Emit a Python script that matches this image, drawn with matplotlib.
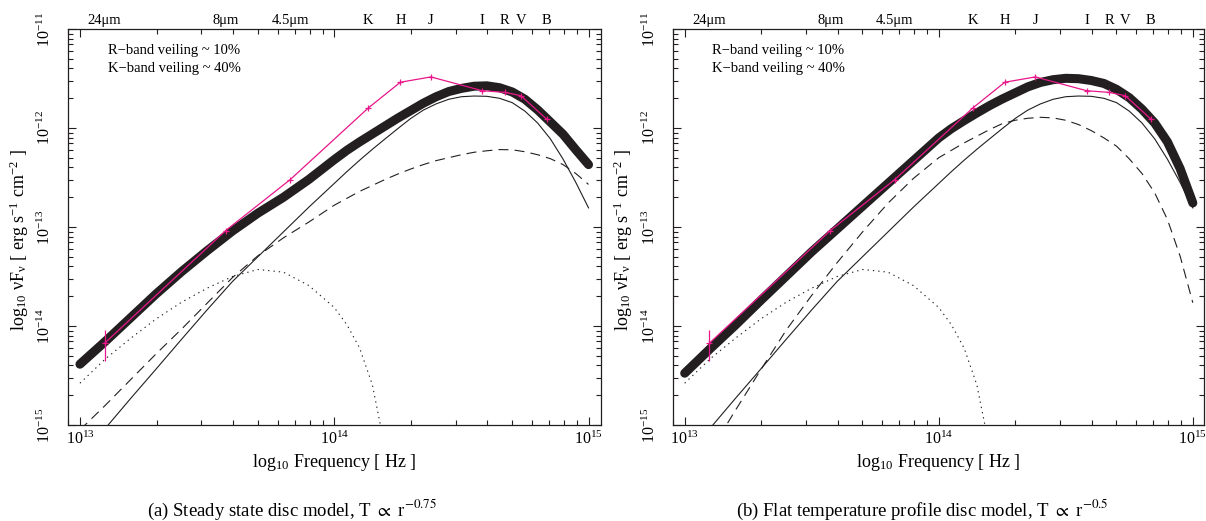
import numpy as np
import matplotlib
matplotlib.use("Agg")
import matplotlib.pyplot as plt
from matplotlib.ticker import FixedLocator, NullFormatter, LogLocator
import matplotlib.transforms as mtransforms

plt.rcParams['font.family'] = ['Liberation Serif', 'DejaVu Serif']
plt.rcParams['mathtext.fontset'] = 'stix'

# ---------------- data (log10 values) ----------------
log_nu = [13.0, 13.1, 13.2, 13.3, 13.4, 13.5, 13.6, 13.7, 13.8, 13.9,
          14.0, 14.05, 14.1, 14.15, 14.2, 14.25, 14.3, 14.35, 14.4, 14.45,
          14.5, 14.55, 14.6, 14.65, 14.7, 14.75, 14.8, 14.85, 14.9, 14.95, 15.0]

# panel (a): steady state disc -- total (thick) and disc (dashed)
a_total = [-14.386, -14.155, -13.915, -13.675, -13.45, -13.24, -13.04, -12.86, -12.70, -12.52,
           -12.32, -12.225, -12.14, -12.06, -11.98, -11.90, -11.825, -11.75, -11.685, -11.632,
           -11.600, -11.578, -11.574, -11.593, -11.636, -11.71, -11.817, -11.94, -12.064, -12.22, -12.37]
a_disc = [-15.05, -14.80, -14.54, -14.28, -14.03, -13.77, -13.51, -13.29, -13.11, -12.95,
          -12.78, -12.71, -12.64, -12.58, -12.52, -12.465, -12.415, -12.37, -12.33, -12.30,
          -12.27, -12.245, -12.23, -12.218, -12.22, -12.24, -12.27, -12.31, -12.37, -12.46, -12.57]

# panel (b): flat temperature profile disc -- total (thick) and disc (dashed)
b_total = [-14.477, -14.23, -13.99, -13.74, -13.495, -13.25, -13.02, -12.79, -12.56, -12.33,
           -12.10, -12.006, -11.925, -11.848, -11.774, -11.707, -11.646, -11.585, -11.54, -11.512,
           -11.498, -11.502, -11.52, -11.55, -11.61, -11.694, -11.81, -11.95, -12.14, -12.41, -12.757]
b_disc = [-15.67, -15.27, -14.85, -14.44, -14.04, -13.69, -13.36, -13.05, -12.76, -12.51,
          -12.30, -12.225, -12.15, -12.083, -12.016, -11.956, -11.922, -11.902, -11.892, -11.898,
          -11.922, -11.965, -12.026, -12.10, -12.184, -12.312, -12.46, -12.655, -12.924, -13.294, -13.765]

# stellar component (thin solid), same in both panels
star = [-15.333, -15.033, -14.730, -14.433, -14.133, -13.837, -13.55, -13.30, -13.05, -12.80,
        -12.56, -12.44, -12.325, -12.215, -12.11, -12.006, -11.905, -11.82, -11.757, -11.71,
        -11.684, -11.677, -11.68, -11.70, -11.744, -11.83, -11.95, -12.11, -12.315, -12.55, -12.807]

# dust component (dotted), same in both panels
dust_log_nu = [13.0, 13.1, 13.2, 13.3, 13.4, 13.5, 13.6, 13.7, 13.8, 13.9, 14.0,
               14.05, 14.1, 14.15, 14.2]
dust = [-14.578, -14.332, -14.123, -13.928, -13.759, -13.618, -13.500, -13.429,
        -13.456, -13.591, -13.813, -13.988, -14.224, -14.595, -15.236]

# observed SED (magenta)
band_names = ['24\u03bcm', '8\u03bcm', '4.5\u03bcm', 'K', 'H', 'J', 'I', 'R', 'V', 'B']
band_nu = [1.25e13, 3.74e13, 6.70e13, 1.36e14, 1.82e14, 2.40e14, 3.82e14, 4.69e14, 5.42e14, 6.84e14]
obs_flux = [6.7e-15, 9.2e-14, 3.0e-13, 1.59e-12, 2.9e-12, 3.28e-12, 2.38e-12, 2.29e-12, 2.12e-12, 1.23e-12]
obs_err_lo = [2.3e-15, 0, 0, 0, 0, 0, 0, 0, 0, 0]
obs_err_hi = [2.4e-15, 0, 0, 0, 0, 0, 0, 0, 0, 0]

captions = ['(a) Steady state disc model, T $\\propto$ r$^{-0.75}$',
            '(b) Flat temperature profile disc model, T $\\propto$ r$^{-0.5}$']
caption_x = [292, 922]
veil_text = ['R\u2212band veiling ~ 10%', 'K\u2212band veiling ~ 40%']

MAG = '#e8178a'
INK = '#231f20'

fig = plt.figure(figsize=(12.06, 5.21), dpi=100)
W, H = 1206.0, 521.0
ax_a = fig.add_axes([68 / W, 1 - 425 / H, 533 / W, 396 / H])
ax_b = fig.add_axes([672.5 / W, 1 - 425 / H, 531.5 / W, 396 / H])

panels = [(ax_a, a_total, a_disc, (10**12.953, 10**15.049)),
          (ax_b, b_total, b_disc, (10**12.952, 10**15.044))]

nu = 10.0 ** np.array(log_nu)
dnu = 10.0 ** np.array(dust_log_nu)

ylab = 'log$_{\\mathregular{10}}$ \u03bdF$_{\\mathregular{\u03bd}}$ [ erg s$^{\\mathregular{-1}}$ cm$^{\\mathregular{-2}}$ ]'
xlab = 'log$_{\\mathregular{10}}$ Frequency [ Hz ]'

for i, (ax, tot, disc, xl) in enumerate(panels):
    ax.set_xscale('log')
    ax.set_yscale('log')
    ax.plot(dnu, 10.0 ** np.array(dust), color=INK, lw=0.8, ls=(0, (1.2, 3.6)))
    ax.plot(nu, 10.0 ** np.array(disc), color=INK, lw=0.8, ls=(0, (9, 5.5)))
    ax.plot(nu, 10.0 ** np.array(star), color=INK, lw=0.8)
    ax.plot(nu, 10.0 ** np.array(tot), color=INK, lw=6.5,
            solid_capstyle='round', solid_joinstyle='round')
    ax.errorbar(band_nu, obs_flux, yerr=[obs_err_lo, obs_err_hi], color=MAG,
                lw=0.9, marker='+', ms=4, mew=0.9, capsize=0, elinewidth=0.9)
    ax.set_xlim(*xl)
    ax.set_ylim(1e-15, 1e-11)

    ax.xaxis.set_major_locator(FixedLocator([1e13, 1e14, 1e15]))
    ax.xaxis.set_minor_locator(LogLocator(base=10, subs=np.arange(2, 10), numticks=20))
    ax.xaxis.set_minor_formatter(NullFormatter())
    ax.set_xticklabels(['$\\mathregular{10^{13}}$', '$\\mathregular{10^{14}}$', '$\\mathregular{10^{15}}$'])
    ax.yaxis.set_major_locator(FixedLocator([1e-15, 1e-14, 1e-13, 1e-12, 1e-11]))
    ax.yaxis.set_minor_locator(LogLocator(base=10, subs=np.arange(2, 10), numticks=20))
    ax.yaxis.set_minor_formatter(NullFormatter())
    ax.set_yticklabels(['$\\mathregular{10^{-15}}$', '$\\mathregular{10^{-14}}$', '$\\mathregular{10^{-13}}$',
                        '$\\mathregular{10^{-12}}$', '$\\mathregular{10^{-11}}$'],
                       rotation=90, va='center')
    ax.tick_params(which='both', direction='in', top=True, right=True, width=0.8,
                   color=INK, labelsize=11.5)
    ax.tick_params(which='major', length=6)
    ax.tick_params(which='minor', length=3.5)
    ax.tick_params(axis='y', pad=10)
    ax.tick_params(axis='x', pad=4)
    for s in ax.spines.values():
        s.set_linewidth(0.9)
        s.set_color(INK)

    ax.set_xlabel(xlab, fontsize=13)
    ax.xaxis.set_label_coords(0.5, -0.068)
    ax.set_ylabel(ylab, fontsize=13)
    ax.yaxis.set_label_coords(-0.07, 0.467)

    trans = mtransforms.blended_transform_factory(ax.transData, ax.transAxes)
    for name, f in zip(band_names, band_nu):
        ax.text(f, 1.004, name, transform=trans, ha='center', va='bottom', fontsize=10.5)

    ax.text(0.075, 0.945, veil_text[0], transform=ax.transAxes, fontsize=10.5, va='center')
    ax.text(0.075, 0.899, veil_text[1], transform=ax.transAxes, fontsize=10.5, va='center')

    fig.text(caption_x[i] / W, 1 - 510 / H, captions[i], ha='center', va='center', fontsize=13.5)

fig.savefig('out.png', dpi=100)
